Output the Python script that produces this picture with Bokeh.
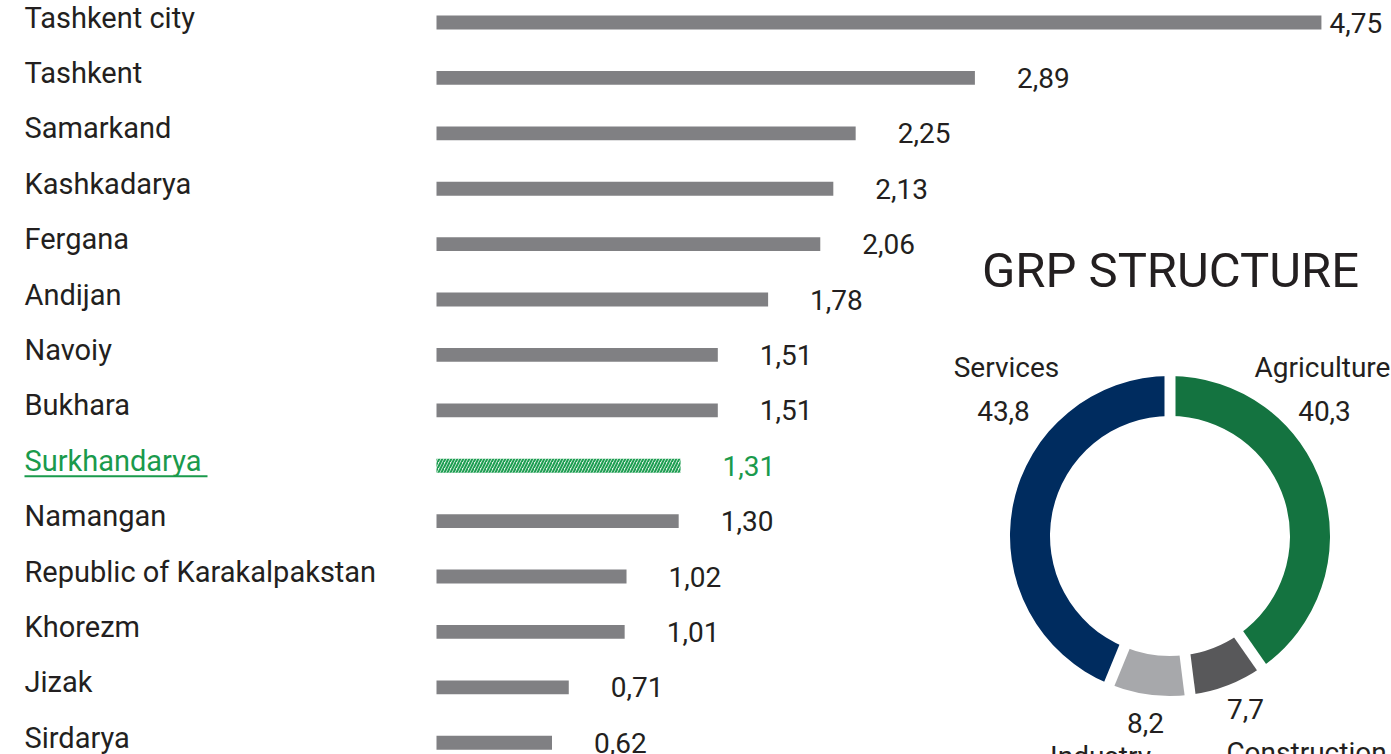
import numpy as np
from bokeh.plotting import figure
from bokeh.models import Range1d, ColumnDataSource
from bokeh.core.properties import value
from bokeh.embed import file_html
from bokeh.resources import INLINE

# ---- data ----
regions = ["Tashkent city", "Tashkent", "Samarkand", "Kashkadarya", "Fergana", "Andijan",
           "Navoiy", "Bukhara", "Surkhandarya", "Namangan", "Republic of Karakalpakstan",
           "Khorezm", "Jizak", "Sirdarya"]
grp_values = [4.75, 2.89, 2.25, 2.13, 2.06, 1.78, 1.51, 1.51, 1.31, 1.30, 1.02, 1.01, 0.71, 0.62]
highlight = "Surkhandarya"

sectors = ["Agriculture", "Construction", "Industry", "Services"]
shares = [40.3, 7.7, 8.2, 43.8]

# ---- style ----
FONT = "Roboto"
DARK = "#231f20"
GREEN = "#1a9a4c"
BAR = "#808083"
SECTOR_COLORS = ["#147340", "#58585a", "#a7a8ab", "#002c5f"]

W, H = 1391, 754
X0_PX, PX_PER_UNIT = 436, 186.3
Y0_PX, PX_PER_ROW = 22, 55.4

p = figure(width=W, height=H, output_backend="svg", toolbar_location=None,
           min_border=0, outline_line_color=None, background_fill_color="white",
           border_fill_color="white",
           x_range=Range1d(-X0_PX / PX_PER_UNIT, (W - X0_PX) / PX_PER_UNIT),
           y_range=Range1d((H - Y0_PX) / PX_PER_ROW, -Y0_PX / PX_PER_ROW))
p.extra_x_ranges = {"px": Range1d(0, W)}
p.extra_y_ranges = {"py": Range1d(0, H)}
p.axis.visible = False
p.grid.visible = False

idx = list(range(len(regions)))
is_hl = [r == highlight for r in regions]
labels = [f"{v:.2f}".replace(".", ",") for v in grp_values]
vmax = max(grp_values)

normal = ColumnDataSource(dict(
    y=[i for i in idx if not is_hl[i]],
    v=[grp_values[i] for i in idx if not is_hl[i]]))
hl = ColumnDataSource(dict(
    y=[i for i in idx if is_hl[i]],
    v=[grp_values[i] for i in idx if is_hl[i]]))

p.hbar(y="y", right="v", left=0, height=0.25, source=normal, fill_color=BAR, line_color=None)
p.hbar(y="y", right="v", left=0, height=0.25, source=hl, fill_color="#e6f4ea",
       line_color=None, hatch_pattern="/", hatch_color="#1e9e52", hatch_scale=6,
       hatch_weight=2)

# value labels
vsrc = ColumnDataSource(dict(
    x=grp_values, y=idx, t=labels,
    c=[GREEN if h else DARK for h in is_hl],
    off=[8 if v == vmax else 42 for v in grp_values]))
p.text(x="x", y="y", text="t", source=vsrc, x_offset="off", text_color="c",
       text_font=value(FONT), text_font_size="28px", text_baseline="middle",
       text_align="left")

# row labels
rsrc = ColumnDataSource(dict(
    x=[24] * len(regions), y=idx, t=regions,
    c=[GREEN if h else DARK for h in is_hl]))
p.text(x="x", y="y", text="t", source=rsrc, x_range_name="px", y_offset=-5,
       text_color="c", text_font=value(FONT), text_font_size="29px",
       text_baseline="middle", text_align="left")
hi = regions.index(highlight)
p.segment(x0=[24], x1=[207], y0=[hi + 0.19], y1=[hi + 0.19], x_range_name="px",
          line_color=GREEN, line_width=2)

# ---- donut ----
CX, CY = 1169.5, H - 535.5
cum = np.cumsum(shares) / sum(shares) * 360.0
prev = np.concatenate([[0.0], cum[:-1]])
starts = 90 - prev
ends = 90 - cum
dsrc = ColumnDataSource(dict(x=[CX] * 4, y=[CY] * 4, s=starts, e=ends, c=SECTOR_COLORS))
p.annular_wedge(x="x", y="y", inner_radius=120, outer_radius=160, start_angle="s",
                end_angle="e", start_angle_units="deg", end_angle_units="deg",
                direction="clock", fill_color="c", line_color=None, source=dsrc,
                x_range_name="px", y_range_name="py")
ang = np.deg2rad(ends)
p.segment(x0=[CX] * 4, y0=[CY] * 4, x1=list(CX + 175 * np.cos(ang)),
          y1=list(CY + 175 * np.sin(ang)), line_color="white", line_width=11,
          x_range_name="px", y_range_name="py")

p.text(x=[1170], y=[H - 270], text=["GRP STRUCTURE"], x_range_name="px", y_range_name="py",
       text_color=DARK, text_font=value(FONT), text_font_size="49px",
       text_baseline="middle", text_align="center")

share_txt = [f"{s:.1f}".replace(".", ",") for s in shares]
name_pos = [(1322, H - 367), (1306, H - 752), (1100, H - 756), (1006, H - 367)]
val_pos = [(1324, H - 410), (1245, H - 708), (1145, H - 722), (1003, H - 410)]
p.text(x=[a for a, b in name_pos], y=[b for a, b in name_pos], text=sectors,
       x_range_name="px", y_range_name="py", text_color=DARK, text_font=value(FONT),
       text_font_size="28px", text_baseline="middle", text_align="center")
p.text(x=[a for a, b in val_pos], y=[b for a, b in val_pos], text=share_txt,
       x_range_name="px", y_range_name="py", text_color=DARK, text_font=value(FONT),
       text_font_size="28px", text_baseline="middle", text_align="center")

open("out.html", "w").write(file_html(p, INLINE))
